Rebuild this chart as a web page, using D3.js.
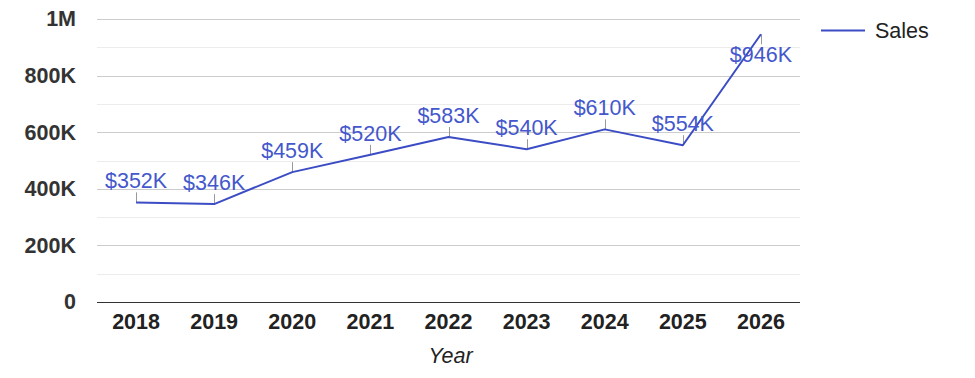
<!DOCTYPE html>
<html>
<head>
<meta charset="utf-8">
<script src="https://cdn.jsdelivr.net/npm/d3@7"></script>
<style>
  html, body { margin: 0; padding: 0; background: #fff; }
  svg { display: block; font-family: "Liberation Sans", Arial, sans-serif; }
</style>
</head>
<body>
<svg id="chart" width="975" height="378"></svg>
<script>
const years = ["2018","2019","2020","2021","2022","2023","2024","2025","2026"];
const sales = [352000, 346000, 459000, 520000, 583000, 540000, 610000, 554000, 946000];
const yTicks = [0, 200000, 400000, 600000, 800000, 1000000];
const yTickLabels = ["0", "200K", "400K", "600K", "800K", "1M"];
const seriesName = "Sales";
const xTitle = "Year";

const W = 975, H = 378;
const margin = { left: 97, right: 175, top: 19, bottom: 76 };
const svg = d3.select("#chart");
const lineColor = "#3b4cc4";
const textBlue = "#4457cc";
const fs = 21.5;

const x = d3.scaleBand().domain(years).range([margin.left, W - margin.right]).padding(0);
const y = d3.scaleLinear().domain([0, 1000000]).range([H - margin.bottom, margin.top]);

// minor gridlines
const minor = d3.range(100000, 1000000, 200000);
svg.append("g").selectAll("line").data(minor).join("line")
  .attr("x1", margin.left).attr("x2", W - margin.right)
  .attr("y1", d => Math.round(y(d)) + 0.5).attr("y2", d => Math.round(y(d)) + 0.5)
  .attr("stroke", "#ececec").attr("stroke-width", 1);

// major gridlines
svg.append("g").selectAll("line").data(yTicks.slice(1)).join("line")
  .attr("x1", margin.left).attr("x2", W - margin.right)
  .attr("y1", d => Math.round(y(d)) + 0.5).attr("y2", d => Math.round(y(d)) + 0.5)
  .attr("stroke", "#cccccc").attr("stroke-width", 1);

// baseline
svg.append("line")
  .attr("x1", margin.left).attr("x2", W - margin.right)
  .attr("y1", Math.round(y(0)) + 0.5).attr("y2", Math.round(y(0)) + 0.5)
  .attr("stroke", "#333").attr("stroke-width", 1);

// y axis labels
const yAxis = d3.axisLeft(y).tickValues(yTicks)
  .tickFormat((d, i) => yTickLabels[i]).tickSize(0).tickPadding(0);
const gy = svg.append("g").attr("transform", `translate(${margin.left - 21},0)`).call(yAxis);
gy.select(".domain").remove();
gy.selectAll("text").attr("font-size", fs).attr("font-weight", "bold")
  .attr("fill", "#333").attr("font-family", "Liberation Sans, Arial, sans-serif");

// x axis labels
const xAxis = d3.axisBottom(x).tickSize(0).tickPadding(0);
const gx = svg.append("g").attr("transform", `translate(0,${y(0) + 12})`).call(xAxis);
gx.select(".domain").remove();
gx.selectAll("text").attr("font-size", fs).attr("font-weight", "bold")
  .attr("fill", "#222").attr("font-family", "Liberation Sans, Arial, sans-serif");

// x title
svg.append("text")
  .attr("x", (margin.left + W - margin.right) / 2 + 2)
  .attr("y", 363)
  .attr("text-anchor", "middle")
  .attr("font-size", fs).attr("font-style", "italic").attr("fill", "#222")
  .text(xTitle);

const cx = d => x(d) + x.bandwidth() / 2;
const pts = years.map((yr, i) => ({ yr, v: sales[i] }));

// annotation stems
const stemLen = 10;
const flip = d => y(d.v) - stemLen - 20 < 5;
svg.append("g").selectAll("line").data(pts).join("line")
  .attr("x1", d => Math.round(cx(d.yr)) + 0.5).attr("x2", d => Math.round(cx(d.yr)) + 0.5)
  .attr("y1", d => y(d.v))
  .attr("y2", d => flip(d) ? y(d.v) + stemLen : y(d.v) - stemLen)
  .attr("stroke", "#999").attr("stroke-width", 1);

// line
const line = d3.line().x(d => cx(d.yr)).y(d => y(d.v));
svg.append("path").datum(pts)
  .attr("d", line).attr("fill", "none")
  .attr("stroke", lineColor).attr("stroke-width", 2).attr("stroke-linejoin", "round");

// annotation labels
svg.append("g").selectAll("text").data(pts).join("text")
  .attr("x", d => cx(d.yr))
  .attr("y", d => flip(d) ? y(d.v) + stemLen + 18 : y(d.v) - stemLen - 4)
  .attr("text-anchor", "middle")
  .attr("font-size", fs).attr("fill", textBlue)
  .text(d => "$" + d3.format(".0f")(d.v / 1000) + "K");

// legend
const lg = svg.append("g").attr("transform", "translate(821,30)");
lg.append("line").attr("x1", 0).attr("x2", 44).attr("y1", 0.5).attr("y2", 0.5)
  .attr("stroke", lineColor).attr("stroke-width", 2);
lg.append("text").attr("x", 54).attr("y", 7.5).attr("font-size", fs).attr("fill", "#222")
  .text(seriesName);
</script>
</body>
</html>
